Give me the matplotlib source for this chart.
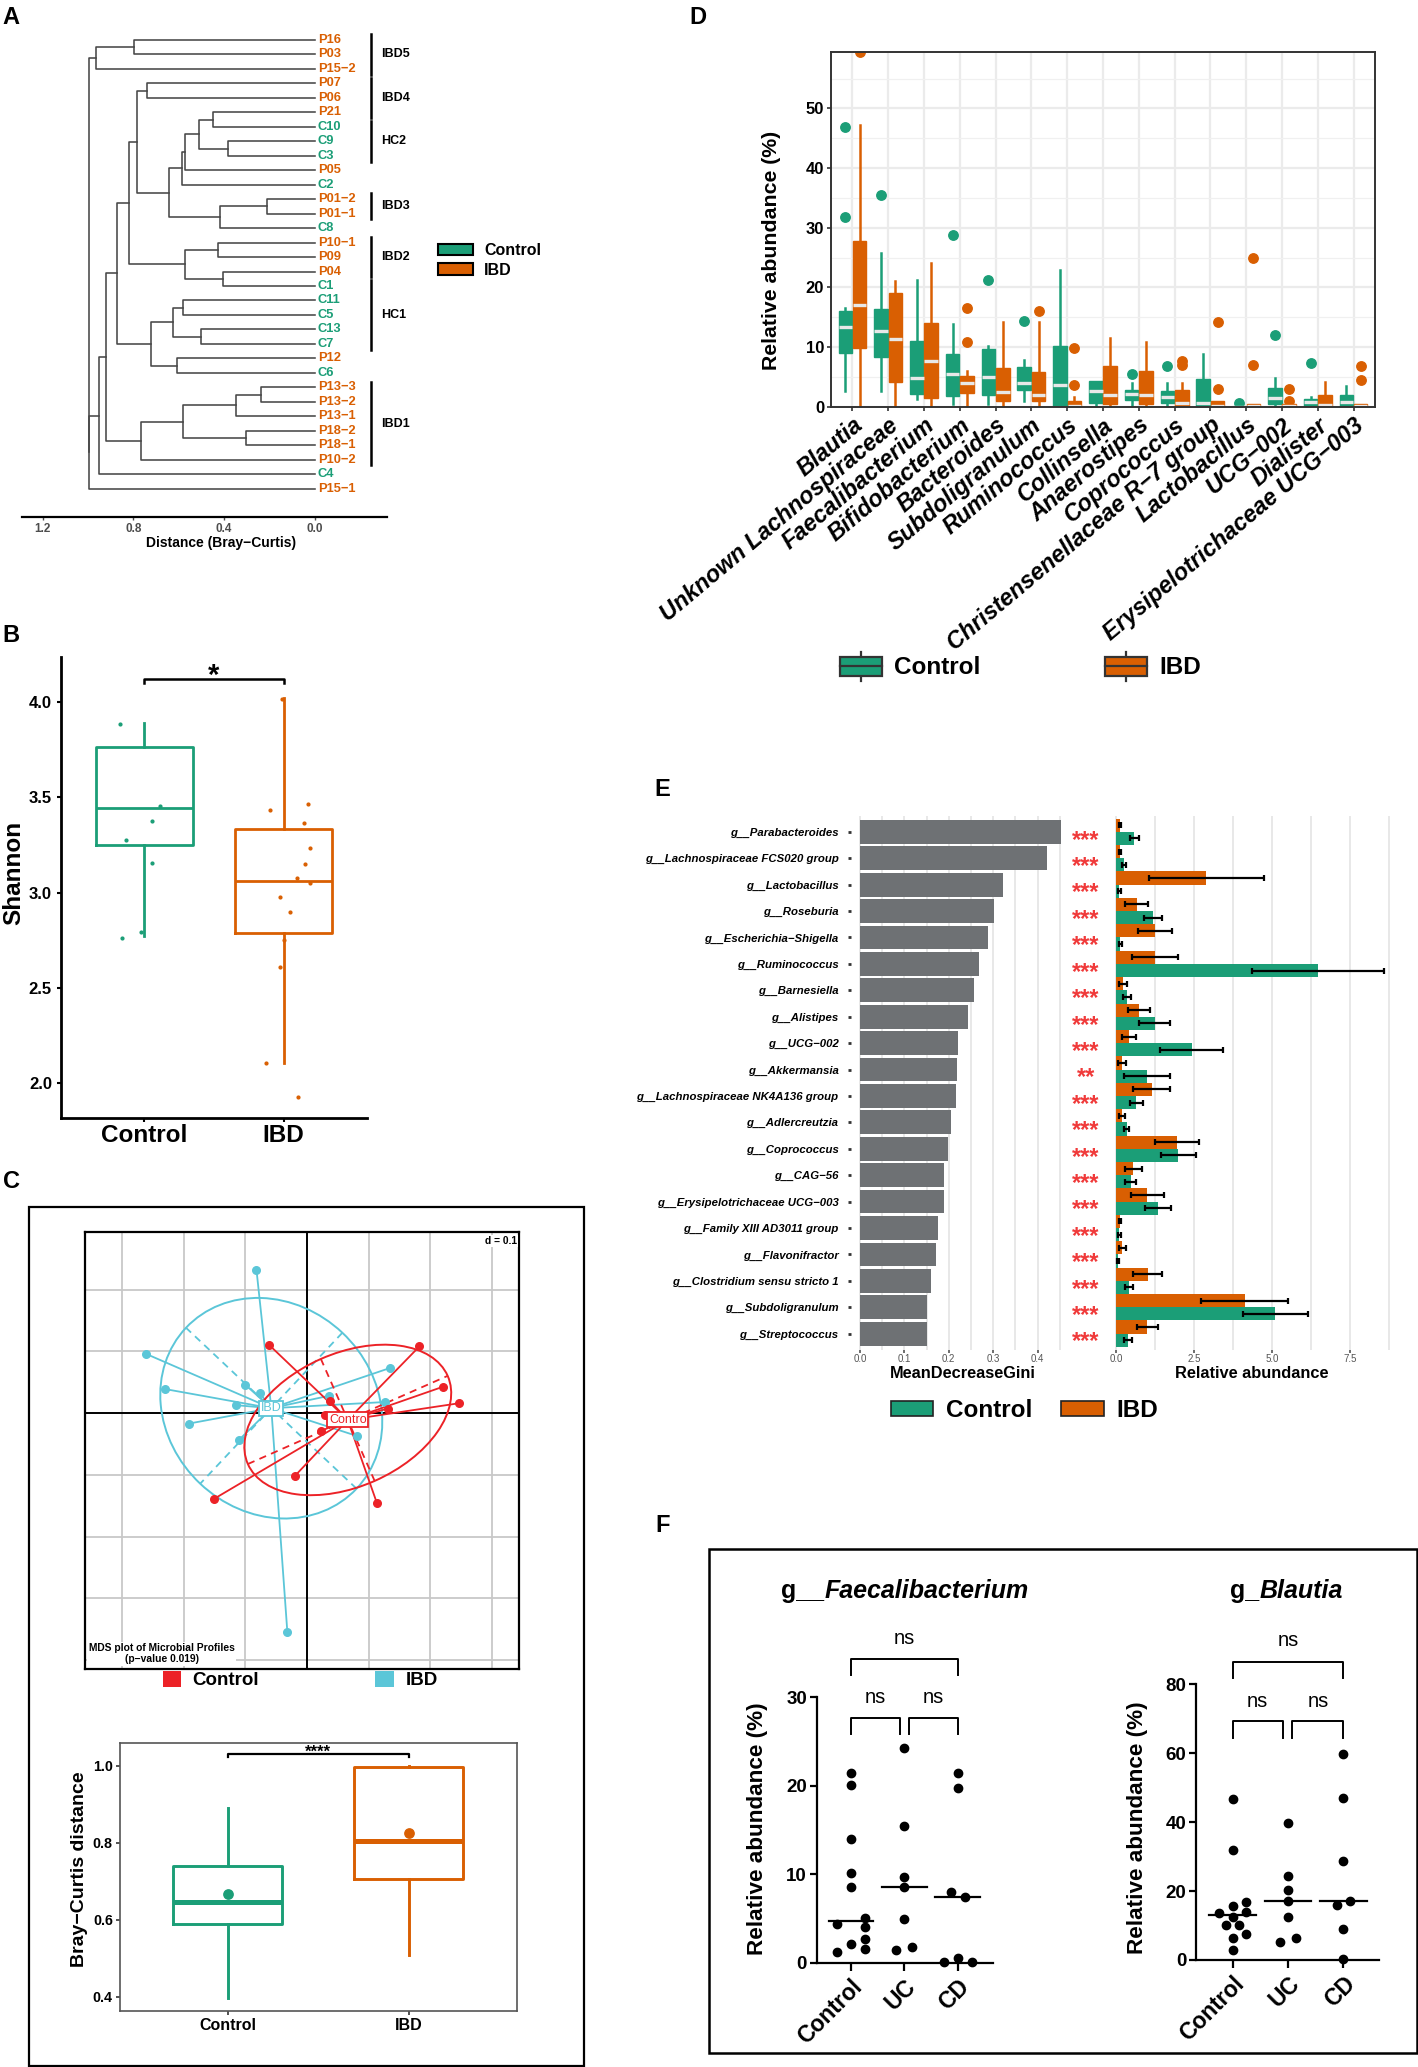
import numpy as np
import matplotlib
matplotlib.use('Agg')
import matplotlib.pyplot as plt
from matplotlib.patches import Rectangle, Ellipse, Patch
from matplotlib.lines import Line2D
from matplotlib.legend_handler import HandlerBase

# ======================= DATA =======================
# ---- Panel A : hierarchical clustering (Bray-Curtis)
leaf_names = ['P16', 'P03', 'P15−2', 'P07', 'P06', 'P21', 'C10', 'C9', 'C3', 'P05', 'C2',
              'P01−2', 'P01−1', 'C8', 'P10−1', 'P09', 'P04', 'C1', 'C11', 'C5', 'C13', 'C7',
              'P12', 'C6', 'P13−3', 'P13−2', 'P13−1', 'P18−2', 'P18−1', 'P10−2', 'C4', 'P15−1']
leaf_groups = ['IBD' if n.startswith('P') else 'Control' for n in leaf_names]
merge_left = ['P16', 'm0', 'P07', 'P21', 'C9', 'm3', 'm5', 'm6', 'P01−2', 'm8', 'm7', 'm2',
              'P10−1', 'P04', 'm12', 'm11', 'C11', 'C13', 'm16', 'P12', 'm18', 'm15',
              'P13−3', 'm22', 'P18−2', 'm23', 'm25', 'm21', 'm27', 'm28', 'm1']
merge_right = ['P03', 'P15−2', 'P06', 'C10', 'C3', 'm4', 'P05', 'C2', 'P01−1', 'C8', 'm9', 'm10',
               'P09', 'C1', 'm13', 'm14', 'C5', 'C7', 'm17', 'C6', 'm19', 'm20',
               'P13−2', 'P13−1', 'P18−1', 'm24', 'P10−2', 'm26', 'C4', 'P15−1', 'm29']
merge_height = [0.797, 0.966, 0.738, 0.449, 0.382, 0.512, 0.571, 0.588, 0.213, 0.419, 0.643, 0.782,
                0.426, 0.407, 0.574, 0.821, 0.581, 0.500, 0.625, 0.610, 0.721, 0.871,
                0.238, 0.346, 0.306, 0.581, 0.768, 0.919, 0.953, 0.994, 0.996]
cluster_names = ['IBD5', 'IBD4', 'HC2', 'IBD3', 'IBD2', 'HC1', 'IBD1']
cluster_first = ['P16', 'P07', 'C10', 'P01−2', 'P10−1', 'C1', 'P13−3']
cluster_last = ['P15−2', 'P21', 'C3', 'P01−1', 'P04', 'C7', 'P10−2']
A_ticks = [1.2, 0.8, 0.4, 0.0]

# ---- Panel B : Shannon
B_groups = ['Control', 'IBD']
B_q1 = [3.25, 2.79]
B_med = [3.445, 3.063]
B_q3 = [3.765, 3.333]
B_lo = [2.77, 2.107]
B_hi = [3.89, 4.02]
B_ctrl_points = [3.886, 3.453, 3.378, 3.277, 3.156, 2.795, 2.763]
B_ctrl_jitter = [-0.177, 0.115, 0.057, -0.134, 0.055, -0.022, -0.165]
B_ibd_points = [4.017, 3.432, 3.467, 3.366, 3.235, 3.149, 3.078, 3.052, 2.975, 2.900, 2.751, 2.611, 2.105, 1.927]
B_ibd_jitter = [-0.01, -0.10, 0.175, 0.145, 0.193, 0.152, 0.097, 0.193, -0.027, 0.049, 0.0, -0.029, -0.124, 0.106]

# ---- Panel C : MDS plot
C_ctrl_x = [-0.062, 0.182, 0.221, 0.246, 0.131, 0.037, 0.029, 0.022, -0.020, -0.151, 0.113]
C_ctrl_y = [0.111, 0.108, 0.043, 0.016, 0.0075, 0.020, -0.003, -0.029, -0.102, -0.139, -0.145]
C_ibd_x = [-0.082, -0.261, -0.230, -0.192, -0.116, -0.100, -0.077, -0.110, 0.035, 0.134, 0.126, 0.081, -0.032]
C_ibd_y = [0.232, 0.096, 0.039, -0.017, 0.013, 0.046, 0.033, -0.043, 0.028, 0.073, 0.018, -0.037, -0.354]
C_centroid_x = [0.066, -0.058]     # Control, IBD
C_centroid_y = [-0.011, 0.008]
C_ell_a = [0.177, 0.190]
C_ell_b = [0.108, 0.168]
C_ell_angle = [23.8, 136.7]
C_center_labels = ['Contro', 'IBD']

# ---- Panel C bottom : Bray-Curtis distance
BC_q1 = [0.589, 0.705]
BC_med = [0.647, 0.804]
BC_q3 = [0.7395, 0.996]
BC_lo = [0.396, 0.507]
BC_hi = [0.889, 1.0]
BC_mean = [0.668, 0.824]

# ---- Panel D : genus relative abundance
D_cats = ['Blautia', 'Unknown Lachnospiraceae', 'Faecalibacterium', 'Bifidobacterium', 'Bacteroides',
          'Subdoligranulum', 'Ruminococcus', 'Collinsella', 'Anaerostipes', 'Coprococcus',
          'Christensenellaceae R−7 group', 'Lactobacillus', 'UCG−002', 'Dialister',
          'Erysipelotrichaceae UCG−003']
D_ctrl_q1 = [9.0, 8.4, 2.2, 1.8, 1.9, 2.8, 0.0, 0.6, 1.2, 0.7, 0.0, 0.0, 0.4, 0.1, 0.1]
D_ctrl_med = [13.3, 12.7, 4.8, 5.4, 5.0, 4.0, 3.6, 2.7, 2.1, 1.7, 0.6, 0.0, 1.5, 0.8, 0.8]
D_ctrl_q3 = [16.0, 16.4, 11.0, 8.9, 9.6, 6.6, 10.1, 4.3, 2.8, 2.6, 4.6, 0.0, 3.2, 1.3, 1.9]
D_ctrl_lo = [2.7, 2.7, 1.3, 0.5, 0.4, 1.0, 0.0, 0.0, 0.3, 0.0, 0.0, 0.0, 0.0, 0.0, 0.0]
D_ctrl_hi = [16.6, 25.8, 21.3, 13.8, 10.1, 7.8, 22.9, 4.3, 4.0, 3.9, 8.9, 0.0, 4.8, 1.7, 3.5]
D_ctrl_out = [[31.8, 46.8], [35.5], [], [28.7], [21.2], [14.4], [], [], [5.4], [6.9], [], [0.7], [12.0], [7.4], []]
D_ibd_q1 = [9.8, 4.1, 1.4, 2.3, 1.0, 0.9, 0.0, 0.5, 0.5, 0.0, 0.0, 0.0, 0.0, 0.1, 0.0]
D_ibd_med = [17.0, 11.4, 7.6, 3.9, 2.4, 2.0, 0.2, 2.0, 2.0, 0.6, 0.2, 0.05, 0.1, 0.3, 0.1]
D_ibd_q3 = [27.8, 19.1, 14.1, 5.2, 6.5, 5.8, 1.0, 6.8, 5.9, 2.8, 0.9, 0.4, 0.4, 1.9, 0.5]
D_ibd_lo = [0.0, 0.0, 0.0, 0.0, 0.0, 0.0, 0.0, 0.0, 0.0, 0.0, 0.0, 0.0, 0.0, 0.0, 0.0]
D_ibd_hi = [47.2, 21.0, 24.1, 6.0, 14.2, 14.2, 1.6, 11.5, 10.8, 4.0, 1.0, 0.4, 0.4, 4.2, 0.5]
D_ibd_out = [[59.5], [], [], [10.8, 16.6], [], [16.1], [3.6, 9.8], [], [], [7.0, 7.6], [2.9, 14.2],
             [7.0, 25.0], [1.0, 2.9], [], [4.5, 6.8]]

# ---- Panel E : random forest
E_genera = ['g__Parabacteroides', 'g__Lachnospiraceae FCS020 group', 'g__Lactobacillus', 'g__Roseburia',
            'g__Escherichia−Shigella', 'g__Ruminococcus', 'g__Barnesiella', 'g__Alistipes', 'g__UCG−002',
            'g__Akkermansia', 'g__Lachnospiraceae NK4A136 group', 'g__Adlercreutzia', 'g__Coprococcus',
            'g__CAG−56', 'g__Erysipelotrichaceae UCG−003', 'g__Family XIII AD3011 group',
            'g__Flavonifractor', 'g__Clostridium sensu stricto 1', 'g__Subdoligranulum', 'g__Streptococcus']
E_gini = [0.453, 0.421, 0.322, 0.302, 0.289, 0.267, 0.257, 0.244, 0.220, 0.219,
          0.217, 0.204, 0.199, 0.190, 0.190, 0.176, 0.171, 0.159, 0.152, 0.151]
E_ibd_mean = [0.13, 0.12, 2.90, 0.66, 1.25, 1.25, 0.22, 0.73, 0.42, 0.19,
              1.15, 0.19, 1.96, 0.56, 1.00, 0.12, 0.20, 1.01, 4.12, 1.00]
E_ibd_se = [0.04, 0.04, 1.83, 0.37, 0.53, 0.73, 0.12, 0.35, 0.23, 0.14,
            0.59, 0.09, 0.71, 0.28, 0.53, 0.04, 0.11, 0.45, 1.39, 0.33]
E_ctrl_mean = [0.59, 0.25, 0.11, 1.19, 0.13, 6.47, 0.35, 1.24, 2.43, 0.99,
               0.65, 0.34, 2.00, 0.47, 1.34, 0.11, 0.06, 0.42, 5.10, 0.39]
E_ctrl_se = [0.14, 0.06, 0.05, 0.30, 0.05, 2.12, 0.14, 0.50, 1.01, 0.74,
             0.20, 0.09, 0.56, 0.18, 0.41, 0.04, 0.03, 0.13, 1.04, 0.12]
E_sig = ['***'] * 9 + ['**'] + ['***'] * 10

# ---- Panel F : Control / UC / CD
F_groups = ['Control', 'UC', 'CD']
faec_control = [21.4, 20.1, 13.96, 10.1, 8.57, 5.1, 4.4, 4.1, 2.7, 2.1, 1.6, 1.2]
faec_control_dx = [0, 0, 0, 0, 0, 0.27, -0.26, 0.27, 0.27, 0, 0.27, -0.26]
faec_uc = [24.2, 15.5, 9.7, 8.6, 4.9, 1.5, 1.76]
faec_uc_dx = [0, 0, 0, 0, 0, -0.15, 0.15]
faec_cd = [21.4, 19.7, 7.96, 7.43, 0.6, 0.08, 0.08]
faec_cd_dx = [0, 0, -0.13, 0.13, 0, -0.26, 0.27]
blau_control = [46.8, 31.9, 15.7, 16.7, 13.6, 13.9, 12.6, 10.2, 10.2, 7.6, 6.5, 2.8]
blau_control_dx = [0, 0, 0, 0.25, -0.25, 0.25, 0, -0.12, 0.12, 0.25, 0, 0]
blau_uc = [39.8, 24.4, 20.2, 17.0, 12.5, 6.5, 5.2]
blau_uc_dx = [0, 0, 0, 0, 0, 0.14, -0.15]
blau_cd = [59.7, 47.1, 28.8, 16.0, 17.2, 9.1, 0.2]
blau_cd_dx = [0, 0, 0, -0.12, 0.12, 0, 0]

# ======================= FIGURE =======================
W, H = 1418, 2067
plt.rcParams['font.family'] = ['Liberation Sans', 'DejaVu Sans']
fig = plt.figure(figsize=(W / 100, H / 100), dpi=100)

GREEN = '#1B9E77'
ORANGE = '#D95F02'
RED = '#EC2227'
CYAN = '#5BC6D8'


def add_ax(l, t, r, b):
    return fig.add_axes([l / W, 1 - b / H, (r - l) / W, (b - t) / H])


def ftext(x, y, s, **kw):
    return fig.text(x / W, 1 - y / H, s, **kw)


def frame(l, t, r, b, lw=1.6):
    fig.add_artist(Rectangle((l / W, 1 - b / H), (r - l) / W, (b - t) / H, transform=fig.transFigure,
                             fill=False, ec='black', lw=lw))


for lab, (x, y) in zip('ABCDEF', [(11, 18), (11, 636), (11, 1182), (698, 17), (662, 789), (663, 1525)]):
    ftext(x, y, lab, fontsize=17, fontweight='bold', ha='center', va='center')

# ----------------------- Panel A -----------------------
axA = add_ax(21.7, 30, 386.7, 517)
pos = {n: i for i, n in enumerate(leaf_names)}
hgt = {n: 0.0 for n in leaf_names}
for k, (a, b, h) in enumerate(zip(merge_left, merge_right, merge_height)):
    axA.plot([hgt[a], h, h, hgt[b]], [pos[a], pos[a], pos[b], pos[b]], color='#474747', lw=1.15)
    pos['m%d' % k] = (pos[a] + pos[b]) / 2
    hgt['m%d' % k] = h
gcol = {'Control': GREEN, 'IBD': ORANGE}
for i, (n, g) in enumerate(zip(leaf_names, leaf_groups)):
    axA.text(-0.012, i, n, color=gcol[g], fontsize=9.3, fontweight='bold', ha='left', va='center')
for name, f, l in zip(cluster_names, cluster_first, cluster_last):
    i0, i1 = leaf_names.index(f), leaf_names.index(l)
    axA.plot([-0.245, -0.245], [i0 - 0.4, i1 + 0.4], color='black', lw=1.8, clip_on=False)
    axA.text(-0.29, (i0 + i1) / 2, name, fontsize=9, fontweight='bold', ha='left', va='center')
axA.set_xlim(1.292, -0.316)
axA.set_ylim(32.96, -0.69)
for s in ['top', 'right', 'left']:
    axA.spines[s].set_visible(False)
axA.spines['bottom'].set_linewidth(1.6)
axA.set_yticks([])
axA.set_xticks(A_ticks)
axA.set_xticklabels(['%.1f' % t for t in A_ticks], fontsize=8.5, fontweight='bold', color='#4D4D4D')
axA.tick_params(axis='x', length=2.5, width=1, color='#4D4D4D', pad=2)
ftext(221, 543, 'Distance (Bray−Curtis)', fontsize=10, fontweight='bold', ha='center', va='center')
fig.legend(handles=[Patch(fc=GREEN, ec='black', lw=1.5), Patch(fc=ORANGE, ec='black', lw=1.5)],
           labels=['Control', 'IBD'], loc='upper left', bbox_to_anchor=(438 / W, 1 - 243 / H),
           frameon=False, prop={'weight': 'bold', 'size': 11.5}, handlelength=2.2, handleheight=0.75,
           handletextpad=0.7, labelspacing=0.3, borderpad=0, borderaxespad=0)

# ----------------------- Panel B -----------------------
axB = add_ax(61, 657, 367, 1118)
for i, c in enumerate([GREEN, ORANGE]):
    st = [dict(med=B_med[i], q1=B_q1[i], q3=B_q3[i], whislo=B_lo[i], whishi=B_hi[i], fliers=[])]
    axB.bxp(st, positions=[i + 1], widths=0.7, showfliers=False, showcaps=False,
            boxprops=dict(color=c, lw=2), whiskerprops=dict(color=c, lw=2), medianprops=dict(color=c, lw=2))
axB.scatter(1 + np.array(B_ctrl_jitter), B_ctrl_points, s=4, color=GREEN, zorder=3)
axB.scatter(2 + np.array(B_ibd_jitter), B_ibd_points, s=4, color=ORANGE, zorder=3)
axB.set_xlim(0.4, 2.6)
axB.set_ylim(1.817, 4.236)
axB.set_yticks([2.0, 2.5, 3.0, 3.5, 4.0])
axB.set_yticklabels(['2.0', '2.5', '3.0', '3.5', '4.0'], fontsize=12, fontweight='bold')
axB.set_xticks([1, 2])
axB.set_xticklabels(B_groups, fontsize=17.5, fontweight='bold')
axB.tick_params(axis='both', length=3, width=1.5)
axB.tick_params(axis='x', pad=1)
for s in ['top', 'right']:
    axB.spines[s].set_visible(False)
for s in ['left', 'bottom']:
    axB.spines[s].set_linewidth(2)
axB.plot([1, 1, 2, 2], [4.10, 4.122, 4.122, 4.10], color='black', lw=1.8, clip_on=False)
axB.text(1.5, 4.094, '*', fontsize=21, fontweight='bold', ha='center', va='baseline')
ftext(14, 873, 'Shannon', fontsize=17.5, fontweight='bold', rotation=90, ha='center', va='center')

# ----------------------- Panel C -----------------------
frame(28.7, 1206.8, 584, 2065.5, lw=1.6)
axC = add_ax(85, 1232.3, 519, 1669.3)
axC.set_xlim(-0.360, 0.3436)
axC.set_ylim(-0.415, 0.293)
for gx in [-0.3, -0.2, -0.1, 0.1, 0.2, 0.3]:
    axC.axvline(gx, color='#C8C8C8', lw=1.3, zorder=0)
for gy in [-0.4, -0.3, -0.2, -0.1, 0.1, 0.2]:
    axC.axhline(gy, color='#C8C8C8', lw=1.3, zorder=0)
axC.axhline(0, color='black', lw=1.4, zorder=1)
axC.axvline(0, color='black', lw=1.4, zorder=1)
for xs, ys, cx, cy, a, b, ang, col in [
        (C_ibd_x, C_ibd_y, C_centroid_x[1], C_centroid_y[1], C_ell_a[1], C_ell_b[1], C_ell_angle[1], CYAN),
        (C_ctrl_x, C_ctrl_y, C_centroid_x[0], C_centroid_y[0], C_ell_a[0], C_ell_b[0], C_ell_angle[0], RED)]:
    for px, py in zip(xs, ys):
        axC.plot([cx, px], [cy, py], color=col, lw=1.3, zorder=2)
    axC.scatter(xs, ys, s=30, color=col, zorder=3)
    axC.add_patch(Ellipse((cx, cy), 2 * a, 2 * b, angle=ang, fill=False, ec=col, lw=1.4, zorder=2))
    t = np.deg2rad(ang)
    axC.plot([cx - a * np.cos(t), cx + a * np.cos(t)], [cy - a * np.sin(t), cy + a * np.sin(t)],
             color=col, lw=1.3, ls=(0, (4, 3)), zorder=2)
    axC.plot([cx + b * np.sin(t), cx - b * np.sin(t)], [cy - b * np.cos(t), cy + b * np.cos(t)],
             color=col, lw=1.3, ls=(0, (4, 3)), zorder=2)
for cx, cy, lab, col in [(C_centroid_x[1], C_centroid_y[1], C_center_labels[1], CYAN),
                         (C_centroid_x[0], C_centroid_y[0], C_center_labels[0], RED)]:
    axC.text(cx, cy, lab, color=col, fontsize=9, ha='center', va='center', zorder=5,
             bbox=dict(boxstyle='square,pad=0.12', fc='white', ec=col, lw=1.3))
axC.set_xticks([])
axC.set_yticks([])
for s in axC.spines.values():
    s.set_linewidth(1.6)
axC.text(0.995, 0.992, 'd = 0.1', transform=axC.transAxes, ha='right', va='top', fontsize=7.4,
         fontweight='bold', bbox=dict(boxstyle='square,pad=0.1', fc='white', ec='none'), zorder=6)
axC.text(0.177, 0.012, 'MDS plot of Microbial Profiles\n(p−value 0.019)', transform=axC.transAxes,
         ha='center', va='bottom', multialignment='center', fontsize=7.4, fontweight='bold', linespacing=1.1,
         bbox=dict(boxstyle='square,pad=0.15', fc='white', ec='none'), zorder=6)
fig.legend(handles=[Patch(fc=RED, ec='none'), Patch(fc=CYAN, ec='none')], labels=['Control', 'IBD'],
           ncol=2, loc='upper left', bbox_to_anchor=(162.6 / W, 1 - 1670.5 / H), frameon=False,
           prop={'weight': 'bold', 'size': 13.5}, handlelength=1.0, handleheight=0.95, handletextpad=0.6,
           columnspacing=6.2, borderpad=0, borderaxespad=0)

# Bray-Curtis boxplot
axBC = add_ax(119.8, 1742.7, 516.6, 2010.7)
for i, c in enumerate([GREEN, ORANGE]):
    st = [dict(med=BC_med[i], q1=BC_q1[i], q3=BC_q3[i], whislo=BC_lo[i], whishi=BC_hi[i], fliers=[])]
    axBC.bxp(st, positions=[i + 1], widths=0.6, showfliers=False, showcaps=False,
             boxprops=dict(color=c, lw=2.1), whiskerprops=dict(color=c, lw=2.1), medianprops=dict(color=c, lw=3.6))
    axBC.scatter([i + 1], [BC_mean[i]], s=45, color=c, zorder=4)
axBC.set_xlim(0.404, 2.596)
axBC.set_ylim(0.3636, 1.0597)
axBC.set_yticks([0.4, 0.6, 0.8, 1.0])
axBC.set_yticklabels(['0.4', '0.6', '0.8', '1.0'], fontsize=10.3, fontweight='bold')
axBC.set_xticks([1, 2])
axBC.set_xticklabels(B_groups, fontsize=11.5, fontweight='bold')
axBC.tick_params(axis='both', length=3, width=1.2, color='#333333', pad=2)
for s in axBC.spines.values():
    s.set_linewidth(1.2)
    s.set_color('#555555')
axBC.plot([1, 1, 2, 2], [1.023, 1.0296, 1.0296, 1.023], color='black', lw=1.6)
axBC.text(1.5, 1.0226, '****', fontsize=12, fontweight='bold', ha='center', va='baseline')
ftext(80, 1869, 'Bray−Curtis distance', fontsize=14, fontweight='bold', rotation=90, ha='center', va='center')

# ----------------------- Panel D -----------------------
axD = add_ax(831, 51.7, 1375, 406.7)
xD = np.arange(1, len(D_cats) + 1)
for grp, (q1, med, q3, lo, hi, out, c, off) in enumerate([
        (D_ctrl_q1, D_ctrl_med, D_ctrl_q3, D_ctrl_lo, D_ctrl_hi, D_ctrl_out, GREEN, -0.2),
        (D_ibd_q1, D_ibd_med, D_ibd_q3, D_ibd_lo, D_ibd_hi, D_ibd_out, ORANGE, 0.2)]):
    stats = [dict(med=med[i], q1=q1[i], q3=q3[i], whislo=lo[i], whishi=hi[i], fliers=out[i])
             for i in range(len(D_cats))]
    axD.bxp(stats, positions=xD + off, widths=0.38, patch_artist=True, showcaps=False,
            boxprops=dict(facecolor=c, edgecolor=c, lw=1.0),
            whiskerprops=dict(color=c, lw=1.8),
            medianprops=dict(color='#E8E8E8', lw=2.4),
            flierprops=dict(marker='o', markerfacecolor=c, markeredgecolor=c, markersize=6.8),
            manage_ticks=False)
axD.set_xlim(0.4, 15.6)
axD.set_ylim(0, 59.5)
axD.set_xticks(xD)
axD.set_xticklabels(D_cats, rotation=40, ha='right', rotation_mode='anchor', fontsize=16.8,
                    fontweight='bold', fontstyle='italic')
axD.set_yticks([0, 10, 20, 30, 40, 50])
axD.set_yticklabels(['0', '10', '20', '30', '40', '50'], fontsize=12, fontweight='bold')
axD.set_yticks([5, 15, 25, 35, 45, 55], minor=True)
axD.set_axisbelow(True)
axD.grid(which='major', color='#EBEBEB', lw=1.6)
axD.grid(which='minor', axis='y', color='#F0F0F0', lw=0.9)
axD.tick_params(axis='both', which='major', length=3, width=1.2, color='#333333', pad=2)
axD.tick_params(axis='y', which='minor', length=0)
for s in axD.spines.values():
    s.set_linewidth(1.4)
    s.set_color('#333333')
ftext(771, 250, 'Relative abundance (%)', fontsize=15.3, fontweight='bold', rotation=90, ha='center', va='center')


class BoxKeyHandler(HandlerBase):
    def create_artists(self, legend, orig_handle, xdescent, ydescent, width, height, fontsize, trans):
        x0, y0 = -xdescent, -ydescent
        fc = orig_handle.get_facecolor()
        xm = x0 + width / 2
        wh = Line2D([xm, xm], [y0, y0 + height], color='#333333', lw=1.6, transform=trans)
        bx = Rectangle((x0, y0 + 0.18 * height), width, 0.64 * height, facecolor=fc, edgecolor='#333333',
                       lw=1.6, transform=trans)
        md = Line2D([x0, x0 + width], [y0 + height / 2] * 2, color='#333333', lw=1.6, transform=trans)
        return [wh, bx, md]


fig.legend(handles=[Patch(fc=GREEN), Patch(fc=ORANGE)], labels=['Control', 'IBD'], ncol=2,
           handler_map={Patch: BoxKeyHandler()}, loc='upper left', bbox_to_anchor=(839.5 / W, 1 - 652 / H),
           frameon=False, prop={'weight': 'bold', 'size': 17.5}, handlelength=1.75, handleheight=1.45,
           handletextpad=0.5, columnspacing=5.1, borderpad=0, borderaxespad=0)

# ----------------------- Panel E -----------------------
yE = np.arange(len(E_genera))
axEL = add_ax(851, 816, 1066, 1349.5)
axEL.barh(yE, E_gini, height=0.9, color='#6E7174', zorder=2)
axEL.set_ylim(len(E_genera) - 0.4, -0.6)
axEL.set_xlim(-0.0203, 0.464)
axEL.set_xticks([0, 0.1, 0.2, 0.3, 0.4])
axEL.set_xticklabels(['0.0', '0.1', '0.2', '0.3', '0.4'])
axEL.set_xticks([0.05, 0.15, 0.25, 0.35, 0.45], minor=True)
axEL.set_axisbelow(True)
axEL.grid(axis='x', which='both', color='#E6E6E6', lw=1.3)
for s in axEL.spines.values():
    s.set_visible(False)
axEL.set_yticks(yE)
axEL.set_yticklabels(E_genera, fontsize=8.2, fontweight='bold', fontstyle='italic')
axEL.tick_params(axis='y', length=2, width=2, pad=7, color='#333333')
axEL.tick_params(axis='x', which='major', length=2, width=1.2, pad=1, labelsize=7, labelcolor='#555555',
                 color='#555555')
axEL.tick_params(axis='x', which='minor', length=0)
ftext(963, 1373, 'MeanDecreaseGini', fontsize=11.8, fontweight='bold', ha='center', va='center')

axER = add_ax(1102.6, 816, 1397.7, 1349.5)
ekw = dict(ecolor='black', lw=1.6, capsize=2.2, capthick=1.6)
axER.barh(yE - 0.25, E_ibd_mean, height=0.5, color=ORANGE, xerr=E_ibd_se, error_kw=ekw, zorder=2)
axER.barh(yE + 0.25, E_ctrl_mean, height=0.5, color=GREEN, xerr=E_ctrl_se, error_kw=ekw, zorder=2)
axER.set_ylim(len(E_genera) - 0.4, -0.6)
axER.set_xlim(-0.43, 9.03)
axER.set_xticks([0, 2.5, 5.0, 7.5])
axER.set_xticklabels(['0.0', '2.5', '5.0', '7.5'])
axER.set_xticks([1.25, 3.75, 6.25, 8.75], minor=True)
axER.set_axisbelow(True)
axER.grid(axis='x', which='both', color='#E6E6E6', lw=1.3)
for s in axER.spines.values():
    s.set_visible(False)
axER.set_yticks([])
axER.tick_params(axis='x', which='major', length=2, width=1.2, pad=1, labelsize=7, labelcolor='#555555',
                 color='#555555')
axER.tick_params(axis='x', which='minor', length=0)
for i, s in enumerate(E_sig):
    axER.annotate(s, xy=(-0.96, i), xytext=(0, -6), textcoords='offset points', ha='center', va='center',
                  color='#F03A3A', fontsize=17, fontweight='bold', annotation_clip=False)
ftext(1252, 1373, 'Relative abundance', fontsize=11.8, fontweight='bold', ha='center', va='center')
fig.legend(handles=[Patch(fc=GREEN, ec='#222222', lw=1.2), Patch(fc=ORANGE, ec='#222222', lw=1.2)],
           labels=['Control', 'IBD'], ncol=2, loc='upper left', bbox_to_anchor=(891 / W, 1 - 1399 / H),
           frameon=False, prop={'weight': 'bold', 'size': 17.5}, handlelength=1.73, handleheight=0.58,
           handletextpad=0.53, columnspacing=1.2, borderpad=0, borderaxespad=0)

# ----------------------- Panel F -----------------------
frame(709, 1548.8, 1416.6, 2053, lw=1.8)


def f_panel(box, xlim, ylim, ytop, yticks, vals, dxs, br_top, br_low, ns_top, ns_low, lb_r, rb_l):
    ax = add_ax(*box)
    for gi, (v, dx) in enumerate(zip(vals, dxs)):
        ax.scatter(gi + 1 + np.array(dx), v, s=36, color='black', clip_on=False, zorder=3)
        m = np.median(v)
        ax.plot([gi + 1 - 0.42, gi + 1 + 0.42], [m, m], color='black', lw=1.6, zorder=3)
    ax.set_xlim(*xlim)
    ax.set_ylim(*ylim)
    for s in ['top', 'right']:
        ax.spines[s].set_visible(False)
    for s in ['left', 'bottom']:
        ax.spines[s].set_linewidth(1.6)
    ax.spines['left'].set_bounds(0, ytop)
    ax.set_yticks(yticks)
    ax.set_yticklabels([str(t) for t in yticks], fontsize=13.5, fontweight='bold')
    ax.set_xticks([1, 2, 3])
    ax.set_xticklabels(F_groups, rotation=45, ha='right', rotation_mode='anchor', fontsize=16.5,
                       fontweight='bold')
    ax.tick_params(axis='y', length=5, width=1.6, pad=2)
    ax.tick_params(axis='x', length=6, width=1.6, pad=3)
    ax.plot([1, 1, 3, 3], [br_top[0], br_top[1], br_top[1], br_top[0]], color='black', lw=1.4, clip_on=False)
    ax.plot([1, 1, lb_r, lb_r], [br_low[0], br_low[1], br_low[1], br_low[0]], color='black', lw=1.4, clip_on=False)
    ax.plot([rb_l, rb_l, 3, 3], [br_low[0], br_low[1], br_low[1], br_low[0]], color='black', lw=1.4, clip_on=False)
    ax.text(2, ns_top, 'ns', fontsize=14.5, ha='center', va='center')
    ax.text((1 + lb_r) / 2, ns_low, 'ns', fontsize=14.5, ha='center', va='center')
    ax.text((rb_l + 3) / 2, ns_low, 'ns', fontsize=14.5, ha='center', va='center')
    return ax


f_panel((816.8, 1608.5, 993, 1962.9), (0.36, 3.66), (0, 40), 30, [0, 10, 20, 30],
        [faec_control, faec_uc, faec_cd], [faec_control_dx, faec_uc_dx, faec_cd_dx],
        (32.5, 34.3), (25.8, 27.6), 36.6, 29.9, 1.92, 2.09)
f_panel((1195.9, 1615.5, 1379, 1960), (0.34, 3.64), (0, 100), 80, [0, 20, 40, 60, 80],
        [blau_control, blau_uc, blau_cd], [blau_control_dx, blau_uc_dx, blau_cd_dx],
        (81.8, 86.5), (64.4, 69.3), 92.6, 75.0, 1.91, 2.08)
ftext(758, 1829, 'Relative abundance (%)', fontsize=16.2, fontweight='bold', rotation=90, ha='center', va='center')
ftext(1138, 1828, 'Relative abundance (%)', fontsize=16.2, fontweight='bold', rotation=90, ha='center', va='center')

for x0, pre, genus in [(781.5, 'g__', 'Faecalibacterium'), (1230, 'g_', 'Blautia')]:
    t1 = ftext(x0, 1591, pre, fontsize=18, fontweight='bold', ha='left', va='center')
    fig.add_artist(plt.Annotation(genus, xy=(1, 0), xycoords=t1, ha='left', va='bottom', fontsize=18,
                                  fontweight='bold', fontstyle='italic'))

fig.savefig('out.png', dpi=100)
